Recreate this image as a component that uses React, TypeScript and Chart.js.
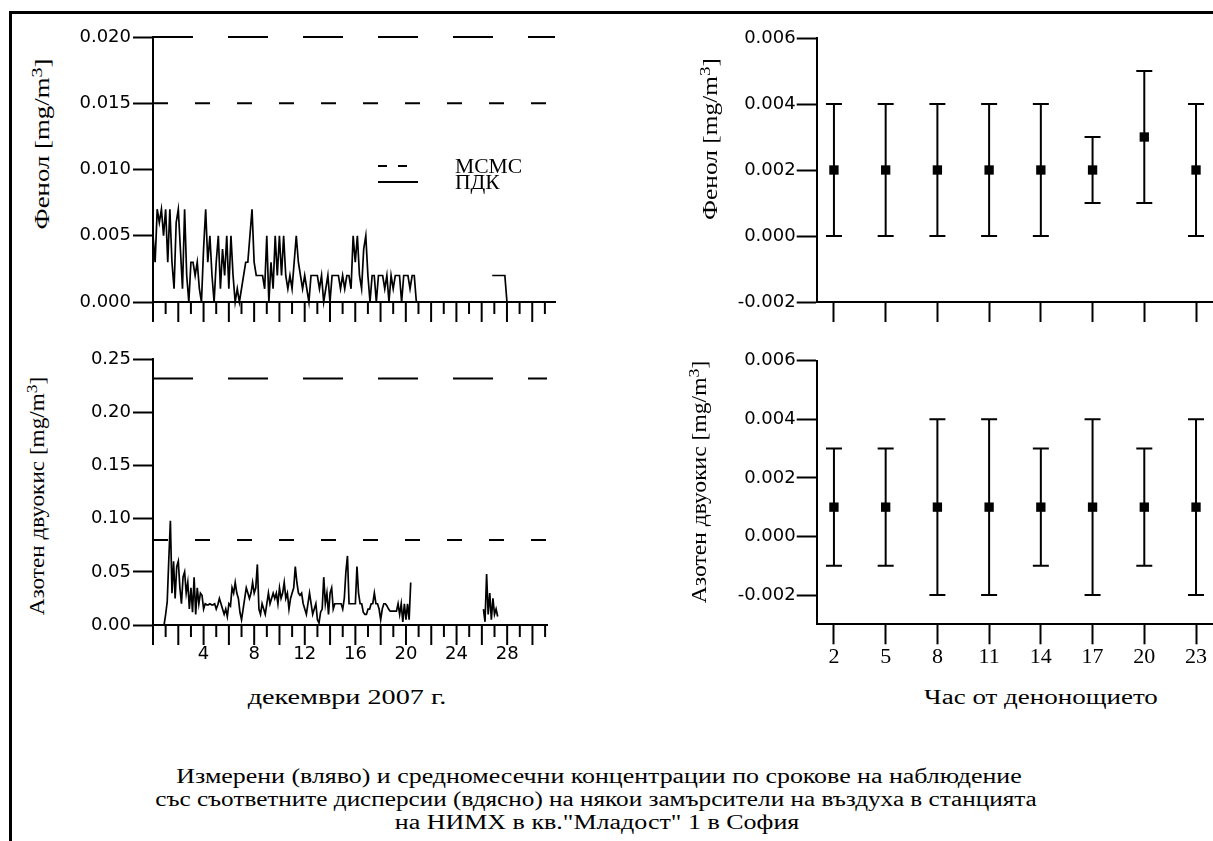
import React, { useEffect, useRef } from 'react';
import { Chart, registerables } from 'chart.js';

Chart.register(...registerables);

// ---------------- DATA ----------------
// Phenol, measured (mg/m3), 6 readings per day starting 0
const phenolStartDay = 0;
const phenolPerDay = 6;
const phenolValues = [
  0.005, 0.003, 0.007, 0.006, 0.007, 0.005,
  0.007, 0.003, 0.007, 0.003, 0.001, 0.006,
  0.007, 0.004, 0.001, 0.007, 0.002, 0.0,
  0.003, 0.003, 0.002, 0.003, 0.001, 0.0,
  0.004, 0.007, 0.003, 0.005, 0.002, 0.0,
  0.003, 0.005, 0.001, 0.004, 0.002, 0.005,
  0.001, 0.005, 0.002, 0.0, 0.001, 0.0,
  0.001, 0.002, 0.003, 0.003, 0.005, 0.007,
  0.003, 0.002, 0.002, 0.002, 0.002, 0.001,
  0.005, 0.0, 0.003, 0.001, 0.005, 0.002,
  0.005, 0.002, 0.005, 0.002, 0.001, 0.002,
  0.001, 0.003, 0.005, 0.003, 0.002, 0.001,
  0.002, 0.001, 0.0, 0.002, 0.002, 0.002,
  0.002, 0.001, 0.002, 0.0, 0.001, 0.002,
  0.0, 0.002, 0.002, 0.002, 0.002, 0.001,
  0.002, 0.001, 0.002, 0.002, 0.001, 0.005,
  0.003, 0.005, 0.002, 0.001, 0.004, 0.005,
  0.002, 0.0, 0.002, 0.002, 0.0, 0.002,
  0.002, 0.002, 0.001, 0.002, 0.0, 0.002,
  0.001, 0.002, 0.002, 0.002, 0.0, 0.002,
  0.002, 0.002, 0.001, 0.002, 0.002, 0.0,
];
const phenolLateStartDay = 26.833;
const phenolLateValues = [0.002, 0.002, 0.002, 0.002, 0.002, 0.002, 0.002, 0.0];
const phenolShortDashLimit = 0.015;
const phenolLongDashLimit = 0.02;

// Nitrogen dioxide, measured (mg/m3), 8 readings per day
const no2StartDay = 0.875;
const no2PerDay = 8;
const no2Values = [
  0.0, 0.01, 0.022, 0.062, 0.098, 0.03, 0.06, 0.025,
  0.055, 0.06, 0.035, 0.02, 0.045, 0.05, 0.03, 0.04,
  0.015, 0.035, 0.012, 0.045, 0.01, 0.035, 0.02, 0.03,
  0.028, 0.015, 0.02, 0.019, 0.019, 0.02, 0.019, 0.019,
  0.02, 0.015, 0.019, 0.025, 0.02, 0.015, 0.01, 0.015,
  0.008, 0.02, 0.018, 0.035, 0.03, 0.04, 0.03, 0.025,
  0.012, 0.005, 0.015, 0.025, 0.035, 0.03, 0.025, 0.03,
  0.04, 0.03, 0.035, 0.057, 0.015, 0.01, 0.02, 0.015,
  0.01, 0.02, 0.03, 0.02, 0.025, 0.03, 0.025, 0.03,
  0.02, 0.035, 0.025, 0.03, 0.04, 0.025, 0.03, 0.015,
  0.025, 0.03, 0.035, 0.055, 0.04, 0.03, 0.028, 0.03,
  0.02, 0.015, 0.01, 0.02, 0.03, 0.02, 0.01, 0.015,
  0.02, 0.005, 0.002, 0.012, 0.015, 0.045, 0.02, 0.03,
  0.01, 0.03, 0.035, 0.015, 0.02, 0.02, 0.02, 0.02,
  0.02, 0.015, 0.025, 0.05, 0.065, 0.02, 0.02, 0.02,
  0.02, 0.02, 0.055, 0.03, 0.02, 0.02, 0.012, 0.01,
  0.01, 0.015, 0.015, 0.02, 0.02, 0.03, 0.02, 0.02,
  0.015, 0.005, 0.015, 0.02, 0.02, 0.018, 0.015, 0.013,
  0.013, 0.013, 0.013, 0.013, 0.02, 0.01, 0.02, 0.003,
  0.02, 0.005, 0.02, 0.005, 0.04,
];
const no2LateStartDay = 26.125;
const no2LateValues = [0.015, 0.003, 0.048, 0.01, 0.03, 0.005, 0.025, 0.01, 0.015, 0.008];
const no2ShortDashLimit = 0.08;
const no2LongDashLimit = 0.232;

const legendLabels = ['МСМС', 'ПДК'];
const dayTickLabels = [4, 8, 12, 16, 20, 24, 28];

// Monthly means by observation hour
const hours = [2, 5, 8, 11, 14, 17, 20, 23];
const phenolHourMean = [0.002, 0.002, 0.002, 0.002, 0.002, 0.002, 0.003, 0.002];
const phenolHourLow = [0.0, 0.0, 0.0, 0.0, 0.0, 0.001, 0.001, 0.0];
const phenolHourHigh = [0.004, 0.004, 0.004, 0.004, 0.004, 0.003, 0.005, 0.004];
const no2HourMean = [0.001, 0.001, 0.001, 0.001, 0.001, 0.001, 0.001, 0.001];
const no2HourLow = [-0.001, -0.001, -0.002, -0.002, -0.001, -0.002, -0.001, -0.002];
const no2HourHigh = [0.003, 0.003, 0.004, 0.004, 0.003, 0.004, 0.003, 0.004];
const hourYTicks = [-0.002, 0.0, 0.002, 0.004, 0.006];

// ---------------- HELPERS ----------------
const tickFont = { family: "'DejaVu Sans'", size: 18 };
const serifTickFont = { family: "'Liberation Serif'", size: 22 };

function toSeries(start: number, perDay: number, values: number[]) {
  return values.map((v, i) => ({ x: start + i / perDay, y: v }));
}

function fmt(v: number, d: number) {
  const n = Math.abs(v) < 1e-9 ? 0 : v;
  return n.toFixed(d);
}

const dayTicksPlugin = {
  id: 'dayTicks',
  afterDraw(chart: any, _a: any, opts: any) {
    const xs = chart.scales.x;
    const ctx = chart.ctx;
    ctx.save();
    ctx.strokeStyle = '#000';
    ctx.lineWidth = 2;
    for (let d = Math.ceil(xs.min); d <= xs.max; d++) {
      const px = xs.getPixelForValue(d);
      const len = d % 2 === 0 ? opts.long : opts.short;
      ctx.beginPath();
      ctx.moveTo(px, xs.top);
      ctx.lineTo(px, xs.top + len);
      ctx.stroke();
    }
    ctx.restore();
  },
};

const limitLegendPlugin = {
  id: 'limitLegend',
  afterDraw(chart: any, _a: any, opts: any) {
    if (!opts || !opts.items) return;
    const { ctx, chartArea } = chart;
    ctx.save();
    ctx.strokeStyle = '#000';
    ctx.fillStyle = '#000';
    ctx.lineWidth = 2;
    ctx.textBaseline = 'middle';
    opts.items.forEach((it: any, i: number) => {
      const y = chartArea.top + opts.top + i * opts.rowGap;
      const x0 = chartArea.left + opts.left;
      ctx.setLineDash(it.dash);
      ctx.beginPath();
      ctx.moveTo(x0, y);
      ctx.lineTo(x0 + opts.sample, y);
      ctx.stroke();
      ctx.setLineDash([]);
      ctx.save();
      ctx.translate(x0 + opts.textGap, y + 2);
      ctx.scale(1.08, 1);
      ctx.font = "20px 'Liberation Serif'";
      ctx.fillText(it.label, 0, 0);
      ctx.restore();
    });
    ctx.restore();
  },
};

const errorBarsPlugin = {
  id: 'errorBars',
  beforeDatasetsDraw(chart: any, _a: any, opts: any) {
    if (!opts || !opts.low) return;
    const ctx = chart.ctx;
    const xs = chart.scales.x;
    const ys = chart.scales.y;
    ctx.save();
    ctx.strokeStyle = '#000';
    ctx.lineWidth = 2;
    opts.x.forEach((xv: number, i: number) => {
      const px = xs.getPixelForValue(xv);
      const lo = ys.getPixelForValue(opts.low[i]);
      const hi = ys.getPixelForValue(opts.high[i]);
      ctx.beginPath();
      ctx.moveTo(px, lo);
      ctx.lineTo(px, hi);
      ctx.moveTo(px - opts.cap, lo);
      ctx.lineTo(px + opts.cap, lo);
      ctx.moveTo(px - opts.cap, hi);
      ctx.lineTo(px + opts.cap, hi);
      ctx.stroke();
    });
    ctx.restore();
  },
};

function limitLine(v: number, xmin: number, xmax: number, dash: number[]) {
  return {
    data: [{ x: xmin, y: v }, { x: xmax, y: v }],
    borderColor: '#000',
    borderWidth: 2,
    borderDash: dash,
    pointRadius: 0,
    clip: false,
  };
}

const LONG_DASH = [40, 35];
const SHORT_DASH = [15, 27];

function measuredConfig(opts: {
  series: any[];
  longLimit: number;
  shortLimit: number;
  xmax: number;
  ymax: number;
  ystep: number;
  decimals: number;
  padTop: number;
  padRight: number;
  yWidth: number;
  xHeight: number;
  showXLabels: boolean;
  legend: boolean;
}) {
  return {
    type: 'line',
    data: {
      datasets: [
        {
          data: opts.series,
          borderColor: '#000',
          borderWidth: 1.7,
          pointRadius: 0,
          spanGaps: false,
          clip: false,
        },
        limitLine(opts.longLimit, 0, opts.xmax, LONG_DASH),
        limitLine(opts.shortLimit, 0, opts.xmax, SHORT_DASH),
      ],
    },
    options: {
      responsive: false,
      maintainAspectRatio: false,
      animation: false,
      layout: { padding: { left: 0, top: opts.padTop, right: opts.padRight, bottom: 0 } },
      plugins: {
        legend: { display: false },
        tooltip: { enabled: false },
        dayTicks: { long: 20, short: 12 },
        limitLegend: opts.legend
          ? {
              items: [
                { label: legendLabels[0], dash: [9, 11] },
                { label: legendLabels[1], dash: [] },
              ],
              left: 225,
              top: 129,
              rowGap: 16,
              sample: 40,
              textGap: 77,
            }
          : {},
      },
      scales: {
        x: {
          type: 'linear',
          min: 0,
          max: opts.xmax,
          ticks: {
            display: opts.showXLabels,
            stepSize: 4,
            includeBounds: false,
            font: tickFont,
            color: '#000',
            padding: 19,
            maxRotation: 0,
            autoSkip: false,
            callback: (v: any) => (dayTickLabels.includes(Number(v)) ? String(v) : ''),
          },
          grid: { display: true, drawOnChartArea: false, drawTicks: false },
          border: { display: true, color: '#000', width: 2 },
          afterFit: (s: any) => {
            s.height = opts.xHeight;
          },
        },
        y: {
          type: 'linear',
          min: 0,
          max: opts.ymax,
          ticks: {
            stepSize: opts.ystep,
            font: tickFont,
            color: '#000',
            padding: 2,
            callback: (v: any) => fmt(Number(v), opts.decimals),
          },
          grid: { drawOnChartArea: false, drawTicks: true, tickLength: 20, tickWidth: 2, tickColor: '#000' },
          border: { display: true, color: '#000', width: 2 },
          afterFit: (s: any) => {
            s.width = opts.yWidth;
          },
        },
      },
    },
    plugins: [dayTicksPlugin, limitLegendPlugin],
  };
}

function hourlyConfig(opts: {
  mean: number[];
  low: number[];
  high: number[];
  ymin: number;
  ymax: number;
  padTop: number;
  padRight: number;
  yWidth: number;
  xHeight: number;
  showXLabels: boolean;
}) {
  return {
    type: 'line',
    data: {
      datasets: [
        {
          data: hours.map((h, i) => ({ x: h, y: opts.mean[i] })),
          showLine: false,
          pointStyle: 'rect',
          pointRadius: 6.6,
          pointBorderWidth: 0,
          pointBackgroundColor: '#000',
          borderColor: '#000',
          clip: false,
        },
      ],
    },
    options: {
      responsive: false,
      maintainAspectRatio: false,
      animation: false,
      layout: { padding: { left: 0, top: opts.padTop, right: opts.padRight, bottom: 0 } },
      plugins: {
        legend: { display: false },
        tooltip: { enabled: false },
        errorBars: { x: hours, low: opts.low, high: opts.high, cap: 8 },
      },
      scales: {
        x: {
          type: 'linear',
          min: 1,
          max: 25,
          afterBuildTicks: (s: any) => {
            s.ticks = hours.map((h) => ({ value: h }));
          },
          ticks: {
            display: opts.showXLabels,
            font: serifTickFont,
            color: '#000',
            padding: 0,
            maxRotation: 0,
            autoSkip: false,
            callback: (v: any) => String(v),
          },
          grid: { drawOnChartArea: false, drawTicks: true, tickLength: 20, tickWidth: 2, tickColor: '#000' },
          border: { display: true, color: '#000', width: 2 },
          afterFit: (s: any) => {
            s.height = opts.xHeight;
          },
        },
        y: {
          type: 'linear',
          min: opts.ymin,
          max: opts.ymax,
          afterBuildTicks: (s: any) => {
            s.ticks = hourYTicks.map((v) => ({ value: v }));
          },
          ticks: {
            font: tickFont,
            color: '#000',
            padding: 1,
            callback: (v: any) => fmt(Number(v), 3),
          },
          grid: { drawOnChartArea: false, drawTicks: true, tickLength: 20, tickWidth: 2, tickColor: '#000' },
          border: { display: true, color: '#000', width: 2 },
          afterFit: (s: any) => {
            s.width = opts.yWidth;
          },
        },
      },
    },
    plugins: [errorBarsPlugin],
  };
}

function ChartCanvas(props: { left: number; top: number; width: number; height: number; config: () => any }) {
  const ref = useRef<HTMLCanvasElement | null>(null);
  useEffect(() => {
    if (!ref.current) return;
    const chart = new Chart(ref.current, props.config());
    return () => chart.destroy();
  }, []);
  return (
    <canvas
      ref={ref}
      width={props.width}
      height={props.height}
      style={{ position: 'absolute', left: props.left, top: props.top, width: props.width, height: props.height }}
    />
  );
}

function RotTitle(props: { cx: number; cy: number; scale: number; size: number; children: any }) {
  return (
    <div
      style={{
        position: 'absolute',
        left: props.cx,
        top: props.cy,
        transform: `translate(-50%, -50%) rotate(-90deg) scaleX(${props.scale})`,
        whiteSpace: 'nowrap',
        fontFamily: "'Liberation Serif'",
        fontSize: props.size,
        lineHeight: 1,
        color: '#000',
      }}
    >
      {props.children}
    </div>
  );
}

function HText(props: { cx: number; cy: number; scale: number; size: number; children: any }) {
  return (
    <div
      style={{
        position: 'absolute',
        left: props.cx,
        top: props.cy,
        transform: `translate(-50%, -50%) scaleX(${props.scale})`,
        whiteSpace: 'nowrap',
        fontFamily: "'Liberation Serif'",
        fontSize: props.size,
        lineHeight: 1,
        color: '#000',
      }}
    >
      {props.children}
    </div>
  );
}

const phenolSeries = [
  ...toSeries(phenolStartDay, phenolPerDay, phenolValues),
  { x: 24, y: null },
  ...toSeries(phenolLateStartDay, phenolPerDay, phenolLateValues),
];
const no2Series = [
  ...toSeries(no2StartDay, no2PerDay, no2Values),
  { x: 24, y: null },
  ...toSeries(no2LateStartDay, no2PerDay, no2LateValues),
];

const sup = (t: string) => <sup style={{ fontSize: '0.75em', verticalAlign: '0.5em' }}>{t}</sup>;

export default function App() {
  return (
    <div
      style={{
        position: 'absolute',
        left: 0,
        top: 0,
        width: 1213,
        height: 841,
        overflow: 'hidden',
        background: '#fff',
      }}
    >
      <div
        style={{
          position: 'absolute',
          left: 9,
          top: 11,
          width: 1400,
          height: 1000,
          borderTop: '3px solid #000',
          borderLeft: '3px solid #000',
        }}
      />
      <ChartCanvas
        left={60}
        top={20}
        width={520}
        height={320}
        config={() =>
          measuredConfig({
            series: phenolSeries,
            longLimit: phenolLongDashLimit,
            shortLimit: phenolShortDashLimit,
            xmax: 31.8,
            ymax: 0.02,
            ystep: 0.005,
            decimals: 3,
            padTop: 17,
            padRight: 25,
            yWidth: 93,
            xHeight: 38,
            showXLabels: false,
            legend: true,
          })
        }
      />
      <ChartCanvas
        left={60}
        top={340}
        width={520}
        height={330}
        config={() =>
          measuredConfig({
            series: no2Series,
            longLimit: no2LongDashLimit,
            shortLimit: no2ShortDashLimit,
            xmax: 31.15,
            ymax: 0.25,
            ystep: 0.05,
            decimals: 2,
            padTop: 19.3,
            padRight: 33,
            yWidth: 93,
            xHeight: 45,
            showXLabels: true,
            legend: false,
          })
        }
      />
      <ChartCanvas
        left={690}
        top={20}
        width={560}
        height={320}
        config={() =>
          hourlyConfig({
            mean: phenolHourMean,
            low: phenolHourLow,
            high: phenolHourHigh,
            ymin: -0.002,
            ymax: 0.006,
            padTop: 18,
            padRight: 19.5,
            yWidth: 126.7,
            xHeight: 38,
            showXLabels: false,
          })
        }
      />
      <ChartCanvas
        left={690}
        top={340}
        width={560}
        height={330}
        config={() =>
          hourlyConfig({
            mean: no2HourMean,
            low: no2HourLow,
            high: no2HourHigh,
            ymin: -0.003,
            ymax: 0.006,
            padTop: 20.7,
            padRight: 19.5,
            yWidth: 126.7,
            xHeight: 45.7,
            showXLabels: true,
          })
        }
      />

      <RotTitle cx={41} cy={144} scale={1.34} size={20}>
        Фенол [mg/m{sup('3')}]
      </RotTitle>
      <RotTitle cx={36} cy={496} scale={1.16} size={20}>
        Азотен двуокис [mg/m{sup('3')}]
      </RotTitle>
      <RotTitle cx={709} cy={139} scale={1.27} size={20}>
        Фенол [mg/m{sup('3')}]
      </RotTitle>
      <RotTitle cx={698} cy={482} scale={1.18} size={20}>
        Азотен двуокис [mg/m{sup('3')}]
      </RotTitle>

      <HText cx={347} cy={697} scale={1.41} size={20}>
        декември 2007 г.
      </HText>
      <HText cx={1041} cy={697} scale={1.35} size={20}>
        Час от денонощието
      </HText>

      <HText cx={599} cy={776} scale={1.295} size={20}>
        Измерени (вляво) и средномесечни концентрации по срокове на наблюдение
      </HText>
      <HText cx={596} cy={799} scale={1.26} size={20}>
        със съответните дисперсии (вдясно) на някои замърсители на въздуха в станцията
      </HText>
      <HText cx={597} cy={822} scale={1.3} size={20}>
        на НИМХ в кв."Младост" 1 в София
      </HText>
    </div>
  );
}
